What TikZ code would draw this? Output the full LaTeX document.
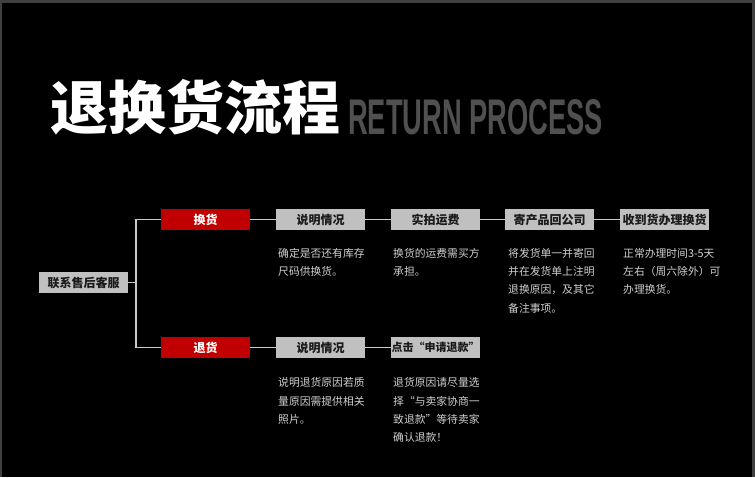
\documentclass[tikz,border=0pt]{standalone}
\usepackage{fontspec}
\setmainfont{Liberation Sans}
\newfontfamily\cjk{Noto Sans CJK SC}
\newfontfamily\latinb{Liberation Sans}
\definecolor{frame}{HTML}{404040}
\definecolor{boxgray}{HTML}{C0C0C0}
\definecolor{boxred}{HTML}{C00000}
\definecolor{linegray}{HTML}{C8C8C8}
\definecolor{desc}{HTML}{D0D0D0}
\definecolor{subtitle}{HTML}{505050}
\definecolor{boxtext}{HTML}{1A1A1A}
\tikzset{
  x=1pt,y=1pt,
  stepbox/.style={draw=none,fill=boxgray,minimum width=89pt,minimum height=21pt,inner sep=0pt,
    font=\cjk\bfseries\fontsize{12pt}{14pt}\selectfont,text=boxtext},
  redbox/.style={stepbox,fill=boxred,text=white},
  conn/.style={draw=linegray,line width=1.1pt},
  desctext/.style={anchor=north west,inner sep=0pt,align=left,text=desc,
    font=\cjk\fontsize{10.8pt}{18.3pt}\selectfont}
}
\begin{document}
\begin{tikzpicture}
\useasboundingbox (0,0) rectangle (755,-477);
\fill[frame] (0,0) rectangle (755,-477);
\fill[black] (1.5,-2.5) rectangle (752,-477);
% title
\node[anchor=west,inner sep=0pt,text=white,font=\cjk\bfseries\fontsize{58pt}{60pt}\selectfont] (title) at (50,-107) {退换货流程};
\node[anchor=south west,inner sep=0pt,text=subtitle] (sub) at (348,-135) {\resizebox{255pt}{35pt}{\latinb\bfseries RETURN PROCESS}};
% nodes
\node[stepbox] (cs) at (83.5,-282.5) {联系售后客服};
\node[redbox] (hh) at (205.5,-219.5) {换货};
\node[redbox] (th) at (205.5,-347.5) {退货};
\node[stepbox] (a1) at (320.5,-219.5) {说明情况};
\node[stepbox] (a2) at (435.5,-219.5) {实拍运费};
\node[stepbox] (a3) at (549.5,-219.5) {寄产品回公司};
\node[stepbox] (a4) at (664.5,-219.5) {收到货办理换货};
\node[stepbox] (b1) at (320.5,-347.5) {说明情况};
\node[stepbox,font=\cjk\bfseries\fontsize{11pt}{13pt}\selectfont] (b2) at (435.5,-347.5) {点击“申请退款”};
% connectors
\coordinate (bx) at (136,-282.5);
\draw[conn] (cs.east) -- (bx);
\draw[conn] (hh.west) -| (bx) |- (th.west);
\draw[conn] (hh) -- (a1);
\draw[conn] (a1) -- (a2);
\draw[conn] (a2) -- (a3);
\draw[conn] (a3) -- (a4);
\draw[conn] (th) -- (b1);
\draw[conn] (b1) -- (b2);
% descriptions
\node[desctext] (d1) at (278,-248) {确定是否还有库存\\尺码供换货。};
\node[desctext] (d2) at (393,-248) {换货的运费需买方\\承担。};
\node[desctext] (d3) at (508,-248) {将发货单一并寄回\\并在发货单上注明\\退换原因，及其它\\备注事项。};
\node[desctext] (d4) at (623,-248) {正常办理时间3-5天\\左右（周六除外）可\\办理换货。};
\node[desctext] (d5) at (278,-377.5) {说明退货原因若质\\量原因需提供相关\\照片。};
\node[desctext] (d6) at (393,-377.5) {退货原因请尽量选\\择“与卖家协商一\\致退款”等待卖家\\确认退款！};
\end{tikzpicture}
\end{document}
